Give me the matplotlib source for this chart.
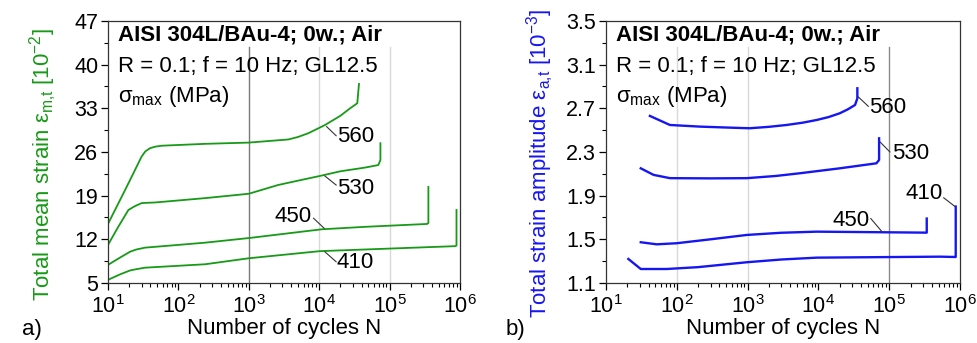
import numpy as np
import matplotlib; matplotlib.use("Agg")
import matplotlib.pyplot as plt
from matplotlib.ticker import LogLocator, FixedLocator, FormatStrFormatter

plt.rcParams.update({"font.family": "Liberation Sans", "mathtext.fontset": "custom",
                     "mathtext.rm": "Liberation Sans", "mathtext.it": "Liberation Sans:italic",
                     "mathtext.bf": "Liberation Sans:bold"})

GREEN = "#179a17"; BLUE = "#1616f2"

# ---- panel a: total mean strain (10^-2) ----
a560_N = [10, 17.5, 23, 30, 34, 39.5, 47, 58, 240, 1000, 3640, 5000, 7000, 12000, 20000, 27500, 34700, 36700]
a560_v = [14.46, 19.9, 22.6, 25.25, 26.1, 26.6, 26.85, 27.0, 27.3, 27.5, 28.0, 28.4, 29.0, 30.3, 31.8, 33.0, 33.8, 36.9]
a530_N = [10, 14, 19.5, 24, 30, 36, 46.5, 240, 1000, 2600, 5000, 10200, 20000, 45000, 69000, 74000, 74000]
a530_v = [11.1, 14.0, 16.7, 17.3, 17.8, 17.85, 17.9, 18.6, 19.3, 20.7, 21.4, 22.15, 22.9, 23.5, 23.9, 24.7, 27.4]
a450_N = [10, 15, 20.5, 25, 33.5, 240, 1000, 10800, 45000, 340000, 355000, 355000]
a450_v = [7.9, 9.1, 10.0, 10.35, 10.66, 11.46, 12.2, 13.6, 14.0, 14.46, 14.6, 20.4]
a410_N = [10, 15, 20.5, 25, 33.5, 240, 1000, 10200, 850000, 890000, 890000]
a410_v = [5.5, 6.4, 7.0, 7.2, 7.45, 8.0, 8.96, 10.1, 10.9, 11.0, 16.7]

# ---- panel b: total strain amplitude (10^-3) ----
b560_N = [41.7, 80, 213, 600, 1070, 2000, 3540, 6000, 9500, 14000, 20000, 26000, 32900, 35500, 35500]
b560_v = [2.63, 2.547, 2.532, 2.522, 2.517, 2.53, 2.547, 2.568, 2.593, 2.62, 2.654, 2.69, 2.73, 2.79, 2.883]
b530_N = [31, 47, 80, 300, 980, 2500, 5500, 20000, 66000, 72000, 72000]
b530_v = [2.15, 2.09, 2.06, 2.058, 2.06, 2.08, 2.105, 2.15, 2.196, 2.227, 2.425]
b450_N = [31, 52, 100, 300, 980, 3000, 9500, 320000, 339000, 339000]
b450_v = [1.473, 1.454, 1.464, 1.50, 1.54, 1.56, 1.57, 1.561, 1.561, 1.69]
b410_N = [20.7, 31, 72, 200, 980, 3000, 9500, 525000, 850000, 870000, 870000]
b410_v = [1.32, 1.228, 1.228, 1.245, 1.29, 1.315, 1.332, 1.341, 1.338, 1.338, 1.80]

LABELS = ["560", "530", "450", "410"]
# label anchor (N, value, ha) and leader line ((N0, v0), (N1, v1))
a_lab = [(10**4.25, 28.45, "left"), (10**4.25, 20.2, "left"), (10**3.89, 15.6, "right"), (10**4.25, 8.25, "left")]
a_lead = [((10**4.105, 30.06), (10**4.24, 28.6)), ((10**4.08, 22.15), (10**4.24, 20.7)),
          ((10**3.92, 15.37), (10**4.07, 13.77)), ((10**4.08, 10.0), (10**4.24, 8.4))]
b_lab = [(10**4.72, 2.706, "left"), (10**5.035, 2.285, "left"), (10**4.73, 1.674, "right"), (10**5.76, 1.918, "right")]
b_lead = [((10**4.564, 2.804), (10**4.705, 2.718)), ((10**4.87, 2.392), (10**5.01, 2.30)),
          ((10**4.74, 1.69), (10**4.89, 1.576)), ((10**5.77, 1.88), (10**5.93, 1.80))]

A_TICKS = [5, 12, 19, 26, 33, 40, 47]
B_TICKS = [1.1, 1.5, 1.9, 2.3, 2.7, 3.1, 3.5]

fig = plt.figure(figsize=(9.78, 3.43), dpi=100)
axA = fig.add_axes([0.1104, 0.175, 0.36, 0.764])
axB = fig.add_axes([0.6196, 0.175, 0.362, 0.764])


def style(ax, ticks, fmt):
    ax.set_xscale("log"); ax.set_xlim(10, 1e6); ax.set_ylim(ticks[0], ticks[-1])
    ax.xaxis.set_major_locator(LogLocator(base=10, numticks=10))
    ax.xaxis.set_minor_locator(LogLocator(base=10, subs=np.arange(2, 10), numticks=20))
    ax.yaxis.set_major_locator(FixedLocator(ticks))
    ax.yaxis.set_minor_locator(FixedLocator([(a + b) / 2 for a, b in zip(ticks[:-1], ticks[1:])]))
    ax.yaxis.set_major_formatter(FormatStrFormatter(fmt))
    ax.tick_params(which="major", length=5, width=0.9, labelsize=15.5, pad=2)
    ax.tick_params(which="minor", length=3, width=0.8)
    ax.tick_params(axis="x", which="major", pad=4)
    for s in ax.spines.values():
        s.set_linewidth(0.9); s.set_color("#333333")
    ax.set_xlabel("Number of cycles N", fontsize=16, labelpad=0)
    ax.text(0.028, 0.945, "AISI 304L/BAu-4; 0w.; Air", transform=ax.transAxes, fontsize=16,
            fontweight="bold", va="center", ha="left")
    ax.text(0.028, 0.826, "R = 0.1; f = 10 Hz; GL12.5", transform=ax.transAxes, fontsize=16, va="center", ha="left")
    ax.text(0.028, 0.71, r"$\mathrm{\sigma}_{\mathrm{max}}$ (MPa)", transform=ax.transAxes, fontsize=16,
            va="center", ha="left")


style(axA, A_TICKS, "%d")
style(axB, B_TICKS, "%.1f")

# partial vertical grid lines
for ax, gl in ((axA, [(1e3, "#7a7a7a"), (1e4, "#d9d9d9"), (1e5, "#d9d9d9")]),
               (axB, [(1e2, "#d9d9d9"), (1e3, "#d9d9d9"), (1e5, "#8a8a8a")])):
    for xv, c in gl:
        ax.axvline(xv, ymin=0, ymax=0.9, color=c, lw=1.0, zorder=0)

for N, v in ((a560_N, a560_v), (a530_N, a530_v), (a450_N, a450_v), (a410_N, a410_v)):
    axA.plot(N, v, color=GREEN, lw=1.3)
for N, v in ((b560_N, b560_v), (b530_N, b530_v), (b450_N, b450_v), (b410_N, b410_v)):
    axB.plot(N, v, color=BLUE, lw=1.7)

for ax, labs, leads in ((axA, a_lab, a_lead), (axB, b_lab, b_lead)):
    for t, (x, y, ha), ((x0, y0), (x1, y1)) in zip(LABELS, labs, leads):
        ax.text(x, y, t, fontsize=16, ha=ha, va="center")
        ax.plot([x0, x1], [y0, y1], color="#333333", lw=0.8)

axA.set_ylabel(r"Total mean strain $\mathrm{\varepsilon_{m{,}t}}$ [10$^{-2}$]", fontsize=16, color=GREEN)
axA.yaxis.set_label_coords(-0.138, 0.45)
axB.set_ylabel(r"Total strain amplitude $\mathrm{\varepsilon_{a{,}t}}$ [10$^{-3}$]", fontsize=16, color=BLUE)
axB.yaxis.set_label_coords(-0.14, 0.455)

fig.text(22 / 978, 1 - 330 / 343, "a)", fontsize=16, va="center", ha="left")
fig.text(506 / 978, 1 - 330 / 343, "b)", fontsize=16, va="center", ha="left")

fig.savefig("out.png", dpi=100)
